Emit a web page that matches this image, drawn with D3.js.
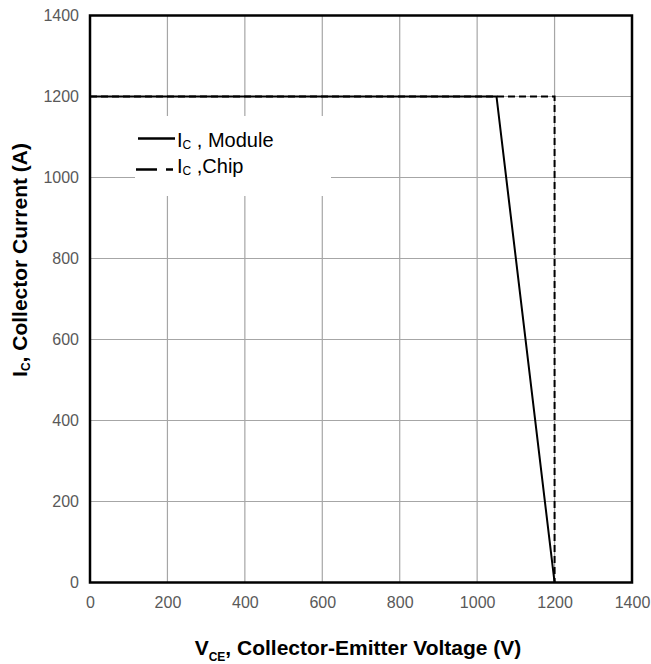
<!DOCTYPE html>
<html>
<head>
<meta charset="utf-8">
<script src="https://cdn.jsdelivr.net/npm/d3@7"></script>
<style>
  html, body { margin: 0; padding: 0; background: #fff; }
  svg { display: block; font-family: "Liberation Sans", Arial, sans-serif; }
</style>
</head>
<body>
<svg id="chart" width="651" height="664"></svg>
<script>
// Reverse-bias safe operating area: collector current vs collector-emitter voltage
const xTicks = [0, 200, 400, 600, 800, 1000, 1200, 1400];
const yTicks = [0, 200, 400, 600, 800, 1000, 1200, 1400];

// I_C, Module boundary (V, A)
const moduleV = [0, 1050, 1200];
const moduleI = [1200, 1200, 0];

// I_C, Chip boundary (V, A)
const chipV = [0, 1200, 1200];
const chipI = [1200, 1200, 0];

const W = 651, H = 664;
const margin = { left: 90, top: 15.5, right: W - 632, bottom: H - 582.5 };
const svg = d3.select("#chart");

const x = d3.scaleLinear().domain([0, 1400]).range([margin.left, W - margin.right]);
const y = d3.scaleLinear().domain([0, 1400]).range([H - margin.bottom, margin.top]);

// grid
const grid = svg.append("g").attr("stroke", "#a6a6a6").attr("stroke-width", 1.2);
grid.selectAll("line.v").data(xTicks.slice(1, -1)).join("line")
  .attr("x1", d => x(d)).attr("x2", d => x(d))
  .attr("y1", y(0)).attr("y2", y(1400));
grid.selectAll("line.h").data(yTicks.slice(1, -1)).join("line")
  .attr("x1", x(0)).attr("x2", x(1400))
  .attr("y1", d => y(d)).attr("y2", d => y(d));

// axes (labels only)
const fmt = d3.format("d");
const xAxis = svg.append("g")
  .attr("transform", `translate(0,${y(0)})`)
  .call(d3.axisBottom(x).tickValues(xTicks).tickFormat(fmt).tickSize(0).tickPadding(14));
const yAxis = svg.append("g")
  .attr("transform", `translate(${x(0)},0)`)
  .call(d3.axisLeft(y).tickValues(yTicks).tickFormat(fmt).tickSize(0).tickPadding(11));
[xAxis, yAxis].forEach(a => {
  a.select(".domain").remove();
  a.selectAll("text").attr("fill", "#595959").attr("font-size", 16)
    .attr("font-family", "Liberation Sans, Arial, sans-serif");
});

// legend background
svg.append("rect")
  .attr("x", 135).attr("y", 116).attr("width", 196).attr("height", 80)
  .attr("fill", "#fff");

// data lines
const line = d3.line().x(d => x(d[0])).y(d => y(d[1]));
svg.append("path")
  .datum(chipV.map((v, i) => [v, chipI[i]]))
  .attr("d", line).attr("fill", "none")
  .attr("stroke", "#000").attr("stroke-width", 2)
  .attr("stroke-dasharray", "7,4");
svg.append("path")
  .datum(moduleV.map((v, i) => [v, moduleI[i]]))
  .attr("d", line).attr("fill", "none")
  .attr("stroke", "#000").attr("stroke-width", 2);

// plot frame
svg.append("rect")
  .attr("x", x(0)).attr("y", y(1400))
  .attr("width", x(1400) - x(0)).attr("height", y(0) - y(1400))
  .attr("fill", "none").attr("stroke", "#000").attr("stroke-width", 2.5);

// legend
const legend = [
  { label: " , Module", dash: null, ly: 138.5, ty: 147 },
  { label: " ,Chip", dash: "21,9,7", ly: 169.5, ty: 172.5 }
];
legend.forEach(l => {
  svg.append("line")
    .attr("x1", l.dash ? 136 : 138).attr("x2", l.dash ? 173 : 175)
    .attr("y1", l.ly).attr("y2", l.ly)
    .attr("stroke", "#000").attr("stroke-width", 2.4)
    .attr("stroke-dasharray", l.dash);
  const t = svg.append("text").attr("x", 177).attr("y", l.ty)
    .attr("font-size", 20).attr("fill", "#000");
  t.append("tspan").text("I");
  t.append("tspan").attr("font-size", 12).attr("dy", 2).text("C");
  t.append("tspan").attr("dy", -2).text(l.label);
});

// axis titles
const xt = svg.append("text")
  .attr("x", 358).attr("y", 655)
  .attr("text-anchor", "middle").attr("font-weight", "bold").attr("font-size", 21);
xt.append("tspan").text("V");
xt.append("tspan").attr("font-size", 12).attr("dy", 6).text("CE");
xt.append("tspan").attr("dy", -6).text(", Collector-Emitter Voltage (V)");

const yt = svg.append("text")
  .attr("transform", "translate(27,260) rotate(-90)")
  .attr("text-anchor", "middle").attr("font-weight", "bold").attr("font-size", 21);
yt.append("tspan").text("I");
yt.append("tspan").attr("font-size", 12).attr("dy", 3).text("C");
yt.append("tspan").attr("dy", -3).text(", Collector Current (A)");
</script>
</body>
</html>
